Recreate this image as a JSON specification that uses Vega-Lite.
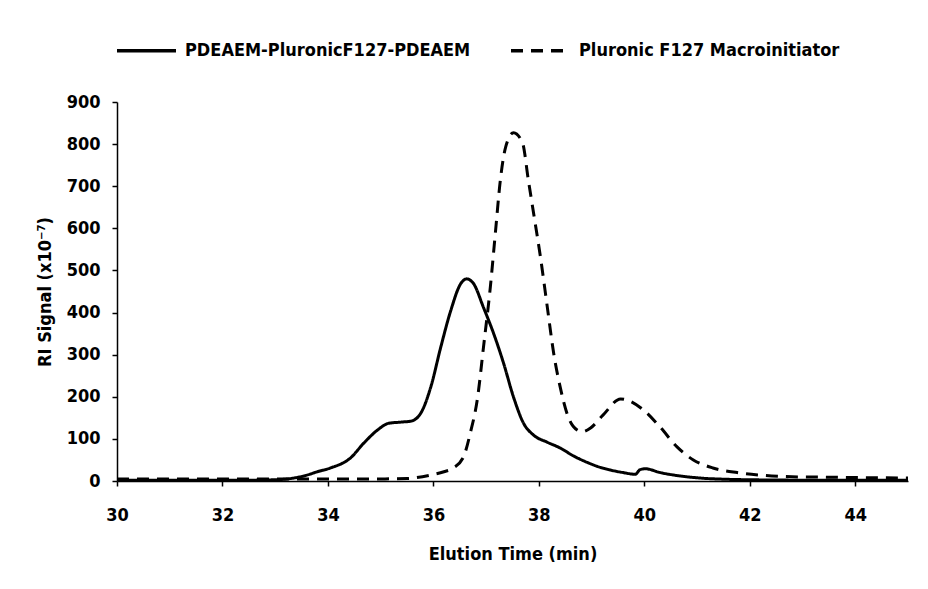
{
  "$schema": "https://vega.github.io/schema/vega-lite/v6.json",
  "width": 791,
  "height": 379,
  "autosize": "none",
  "padding": {"left": 117, "top": 102, "right": 20, "bottom": 108},
  "background": "white",
  "config": {
    "view": {"stroke": null},
    "font": "DejaVu Sans Condensed",
    "axis": {
      "grid": false,
      "domainColor": "black",
      "domainWidth": 1.5,
      "tickColor": "black",
      "tickWidth": 1.5,
      "tickSize": 5,
      "labelFont": "DejaVu Sans Condensed",
      "labelFontWeight": "bold",
      "labelFontSize": 18,
      "labelColor": "black",
      "titleFont": "DejaVu Sans Condensed",
      "titleFontWeight": "bold",
      "titleFontSize": 18,
      "titleColor": "black"
    }
  },
  "data": {
    "values": [
      {"t": 30, "v": 2, "s": "PDEAEM-PluronicF127-PDEAEM"},
      {"t": 31, "v": 2, "s": "PDEAEM-PluronicF127-PDEAEM"},
      {"t": 32, "v": 2, "s": "PDEAEM-PluronicF127-PDEAEM"},
      {"t": 32.5, "v": 2, "s": "PDEAEM-PluronicF127-PDEAEM"},
      {"t": 33, "v": 3, "s": "PDEAEM-PluronicF127-PDEAEM"},
      {"t": 33.3, "v": 6, "s": "PDEAEM-PluronicF127-PDEAEM"},
      {"t": 33.6, "v": 14, "s": "PDEAEM-PluronicF127-PDEAEM"},
      {"t": 33.8, "v": 22, "s": "PDEAEM-PluronicF127-PDEAEM"},
      {"t": 34.05, "v": 31, "s": "PDEAEM-PluronicF127-PDEAEM"},
      {"t": 34.43, "v": 55, "s": "PDEAEM-PluronicF127-PDEAEM"},
      {"t": 34.68, "v": 90, "s": "PDEAEM-PluronicF127-PDEAEM"},
      {"t": 34.94, "v": 121, "s": "PDEAEM-PluronicF127-PDEAEM"},
      {"t": 35.15, "v": 137, "s": "PDEAEM-PluronicF127-PDEAEM"},
      {"t": 35.4, "v": 140, "s": "PDEAEM-PluronicF127-PDEAEM"},
      {"t": 35.57, "v": 142, "s": "PDEAEM-PluronicF127-PDEAEM"},
      {"t": 35.76, "v": 161, "s": "PDEAEM-PluronicF127-PDEAEM"},
      {"t": 35.95, "v": 223, "s": "PDEAEM-PluronicF127-PDEAEM"},
      {"t": 36.14, "v": 318, "s": "PDEAEM-PluronicF127-PDEAEM"},
      {"t": 36.33, "v": 405, "s": "PDEAEM-PluronicF127-PDEAEM"},
      {"t": 36.52, "v": 469, "s": "PDEAEM-PluronicF127-PDEAEM"},
      {"t": 36.63, "v": 480, "s": "PDEAEM-PluronicF127-PDEAEM"},
      {"t": 36.76, "v": 469, "s": "PDEAEM-PluronicF127-PDEAEM"},
      {"t": 36.95, "v": 412, "s": "PDEAEM-PluronicF127-PDEAEM"},
      {"t": 37.14, "v": 351, "s": "PDEAEM-PluronicF127-PDEAEM"},
      {"t": 37.33, "v": 280, "s": "PDEAEM-PluronicF127-PDEAEM"},
      {"t": 37.52, "v": 199, "s": "PDEAEM-PluronicF127-PDEAEM"},
      {"t": 37.71, "v": 137, "s": "PDEAEM-PluronicF127-PDEAEM"},
      {"t": 37.9, "v": 109, "s": "PDEAEM-PluronicF127-PDEAEM"},
      {"t": 38.16, "v": 92, "s": "PDEAEM-PluronicF127-PDEAEM"},
      {"t": 38.41, "v": 78, "s": "PDEAEM-PluronicF127-PDEAEM"},
      {"t": 38.65, "v": 60, "s": "PDEAEM-PluronicF127-PDEAEM"},
      {"t": 38.92, "v": 44, "s": "PDEAEM-PluronicF127-PDEAEM"},
      {"t": 39.15, "v": 33, "s": "PDEAEM-PluronicF127-PDEAEM"},
      {"t": 39.36, "v": 26, "s": "PDEAEM-PluronicF127-PDEAEM"},
      {"t": 39.6, "v": 20, "s": "PDEAEM-PluronicF127-PDEAEM"},
      {"t": 39.83, "v": 16, "s": "PDEAEM-PluronicF127-PDEAEM"},
      {"t": 39.92, "v": 27, "s": "PDEAEM-PluronicF127-PDEAEM"},
      {"t": 40.02, "v": 29, "s": "PDEAEM-PluronicF127-PDEAEM"},
      {"t": 40.3, "v": 20, "s": "PDEAEM-PluronicF127-PDEAEM"},
      {"t": 40.62, "v": 13, "s": "PDEAEM-PluronicF127-PDEAEM"},
      {"t": 41.06, "v": 7, "s": "PDEAEM-PluronicF127-PDEAEM"},
      {"t": 41.57, "v": 4, "s": "PDEAEM-PluronicF127-PDEAEM"},
      {"t": 42, "v": 3, "s": "PDEAEM-PluronicF127-PDEAEM"},
      {"t": 43, "v": 2, "s": "PDEAEM-PluronicF127-PDEAEM"},
      {"t": 44, "v": 2, "s": "PDEAEM-PluronicF127-PDEAEM"},
      {"t": 45, "v": 2, "s": "PDEAEM-PluronicF127-PDEAEM"},
      {"t": 30, "v": 5, "s": "Pluronic F127 Macroinitiator"},
      {"t": 31, "v": 5, "s": "Pluronic F127 Macroinitiator"},
      {"t": 32, "v": 5, "s": "Pluronic F127 Macroinitiator"},
      {"t": 33, "v": 5, "s": "Pluronic F127 Macroinitiator"},
      {"t": 34, "v": 5, "s": "Pluronic F127 Macroinitiator"},
      {"t": 35, "v": 5, "s": "Pluronic F127 Macroinitiator"},
      {"t": 35.5, "v": 6, "s": "Pluronic F127 Macroinitiator"},
      {"t": 35.95, "v": 14, "s": "Pluronic F127 Macroinitiator"},
      {"t": 36.2, "v": 22, "s": "Pluronic F127 Macroinitiator"},
      {"t": 36.38, "v": 31, "s": "Pluronic F127 Macroinitiator"},
      {"t": 36.57, "v": 57, "s": "Pluronic F127 Macroinitiator"},
      {"t": 36.7, "v": 114, "s": "Pluronic F127 Macroinitiator"},
      {"t": 36.84, "v": 200, "s": "Pluronic F127 Macroinitiator"},
      {"t": 36.95, "v": 318, "s": "Pluronic F127 Macroinitiator"},
      {"t": 37.08, "v": 461, "s": "Pluronic F127 Macroinitiator"},
      {"t": 37.18, "v": 596, "s": "Pluronic F127 Macroinitiator"},
      {"t": 37.27, "v": 715, "s": "Pluronic F127 Macroinitiator"},
      {"t": 37.37, "v": 793, "s": "Pluronic F127 Macroinitiator"},
      {"t": 37.52, "v": 827, "s": "Pluronic F127 Macroinitiator"},
      {"t": 37.69, "v": 803, "s": "Pluronic F127 Macroinitiator"},
      {"t": 37.8, "v": 715, "s": "Pluronic F127 Macroinitiator"},
      {"t": 37.9, "v": 636, "s": "Pluronic F127 Macroinitiator"},
      {"t": 38.03, "v": 532, "s": "Pluronic F127 Macroinitiator"},
      {"t": 38.16, "v": 413, "s": "Pluronic F127 Macroinitiator"},
      {"t": 38.28, "v": 304, "s": "Pluronic F127 Macroinitiator"},
      {"t": 38.41, "v": 220, "s": "Pluronic F127 Macroinitiator"},
      {"t": 38.54, "v": 158, "s": "Pluronic F127 Macroinitiator"},
      {"t": 38.65, "v": 130, "s": "Pluronic F127 Macroinitiator"},
      {"t": 38.82, "v": 117, "s": "Pluronic F127 Macroinitiator"},
      {"t": 38.98, "v": 126, "s": "Pluronic F127 Macroinitiator"},
      {"t": 39.22, "v": 157, "s": "Pluronic F127 Macroinitiator"},
      {"t": 39.55, "v": 195, "s": "Pluronic F127 Macroinitiator"},
      {"t": 39.68, "v": 192, "s": "Pluronic F127 Macroinitiator"},
      {"t": 39.98, "v": 169, "s": "Pluronic F127 Macroinitiator"},
      {"t": 40.3, "v": 128, "s": "Pluronic F127 Macroinitiator"},
      {"t": 40.62, "v": 81, "s": "Pluronic F127 Macroinitiator"},
      {"t": 40.93, "v": 50, "s": "Pluronic F127 Macroinitiator"},
      {"t": 41.3, "v": 31, "s": "Pluronic F127 Macroinitiator"},
      {"t": 41.76, "v": 20, "s": "Pluronic F127 Macroinitiator"},
      {"t": 42.2, "v": 14, "s": "Pluronic F127 Macroinitiator"},
      {"t": 42.8, "v": 10, "s": "Pluronic F127 Macroinitiator"},
      {"t": 43.47, "v": 9, "s": "Pluronic F127 Macroinitiator"},
      {"t": 44.2, "v": 8, "s": "Pluronic F127 Macroinitiator"},
      {"t": 45, "v": 7, "s": "Pluronic F127 Macroinitiator"}
    ]
  },
  "mark": {"type": "line", "interpolate": "monotone", "strokeWidth": 3, "color": "black", "clip": true},
  "encoding": {
    "x": {
      "field": "t", "type": "quantitative",
      "scale": {"domain": [30, 45], "nice": false, "zero": false},
      "axis": {"values": [30, 32, 34, 36, 38, 40, 42, 44], "title": "Elution Time (min)", "labelFlush": false, "labelPadding": 20, "titlePadding": 21}
    },
    "y": {
      "field": "v", "type": "quantitative",
      "scale": {"domain": [0, 900], "nice": false},
      "axis": {"values": [0, 100, 200, 300, 400, 500, 600, 700, 800, 900], "title": "RI Signal (x10⁻⁷)", "labelFlush": false, "labelPadding": 12, "titlePadding": 12}
    },
    "strokeDash": {
      "field": "s", "type": "nominal",
      "scale": {"domain": ["PDEAEM-PluronicF127-PDEAEM", "Pluronic F127 Macroinitiator"], "range": [[1, 0], [12, 8]]},
      "legend": {
        "title": null,
        "orient": "none",
        "direction": "horizontal",
        "legendX": -2,
        "legendY": -83,
        "symbolType": "stroke",
        "symbolStrokeWidth": 3.5,
        "symbolStrokeColor": "black",
        "symbolSize": 3481,
        "labelFont": "DejaVu Sans Condensed",
        "labelFontWeight": "bold",
        "labelFontSize": 18,
        "labelColor": "black",
        "labelLimit": 500,
        "columnPadding": 33,
        "labelOffset": 7
      }
    }
  }
}
